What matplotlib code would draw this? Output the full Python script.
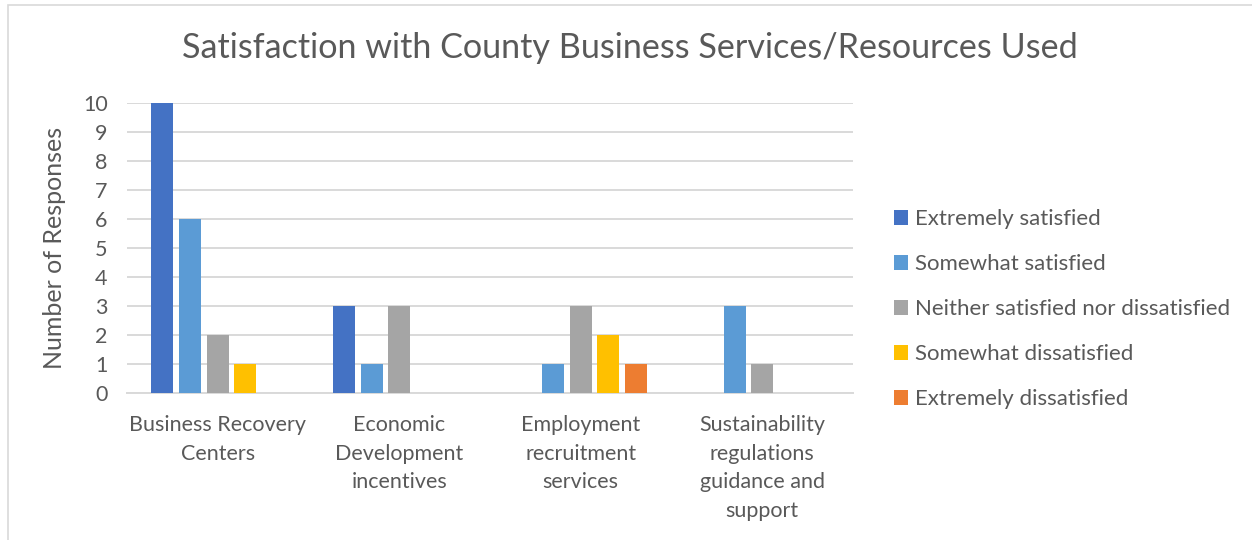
import matplotlib
matplotlib.use("Agg")
import matplotlib.pyplot as plt
from matplotlib.patches import Patch, Rectangle
import numpy as np

categories = [
    "Business Recovery\nCenters",
    "Economic\nDevelopment\nincentives",
    "Employment\nrecruitment\nservices",
    "Sustainability\nregulations\nguidance and\nsupport",
]
series_names = [
    "Extremely satisfied",
    "Somewhat satisfied",
    "Neither satisfied nor dissatisfied",
    "Somewhat dissatisfied",
    "Extremely dissatisfied",
]
extremely_satisfied = [10, 3, 0, 0]
somewhat_satisfied = [6, 1, 1, 3]
neither = [2, 3, 3, 1]
somewhat_dissatisfied = [1, 0, 2, 0]
extremely_dissatisfied = [0, 0, 1, 0]
colors = ["#4472C4", "#5B9BD5", "#A5A5A5", "#FFC000", "#ED7D31"]

series = [extremely_satisfied, somewhat_satisfied, neither,
          somewhat_dissatisfied, extremely_dissatisfied]

plt.rcParams["font.family"] = ["Lato", "DejaVu Sans"]
text_color = "#595959"

fig = plt.figure(figsize=(12.52, 5.40), dpi=100)
ax = fig.add_axes([127 / 1252, 1 - 393 / 540, (853 - 127) / 1252, (393 - 103) / 540])

x = np.arange(len(categories))
slot = 0.1526
width = 0.121
for i, (vals, col, name) in enumerate(zip(series, colors, series_names)):
    offs = (i - 2) * slot
    v = np.array(vals, dtype=float)
    ax.bar(x + offs, np.where(v > 0, v, np.nan), width=width, color=col,
           label=name, zorder=3)

ax.set_xlim(-0.5, len(categories) - 0.5)
ax.set_ylim(0, 10)
ax.set_yticks(range(0, 11))
ax.grid(axis="y", color="#D9D9D9", linewidth=1.4, zorder=0)
ax.set_axisbelow(True)
for s in ["top", "right", "left"]:
    ax.spines[s].set_visible(False)
ax.spines["bottom"].set_color("#D9D9D9")
ax.spines["bottom"].set_linewidth(1.4)
ax.tick_params(axis="both", length=0, colors=text_color, labelsize=15.5)
ax.tick_params(axis="y", pad=14)
ax.tick_params(axis="x", pad=16)
ax.set_xticks(x)
ax.set_xticklabels(categories, linespacing=1.53, va="top")
ax.set_ylabel("Number of Responses", color=text_color, fontsize=18, labelpad=12)

fig.text(630 / 1252, 1 - 48 / 540, "Satisfaction with County Business Services/Resources Used",
         ha="center", va="center", fontsize=24.6, color=text_color)

handles = [Patch(facecolor=c, edgecolor="none") for c in colors]
leg = fig.legend(handles, series_names, loc="upper left",
                 bbox_to_anchor=(894 / 1252, 1 - 209 / 540),
                 frameon=False, fontsize=16, labelcolor=text_color,
                 handlelength=0.65, handleheight=0.65, handletextpad=0.3,
                 labelspacing=1.13, borderaxespad=0, borderpad=0)

fig.patches.append(Rectangle((8 / 1252, -0.1), 1.2, 1 - 5 / 540 + 0.1,
                             transform=fig.transFigure, fill=False,
                             edgecolor="#D9D9D9", linewidth=1.2))

fig.savefig("out.png", dpi=100, facecolor="white")
